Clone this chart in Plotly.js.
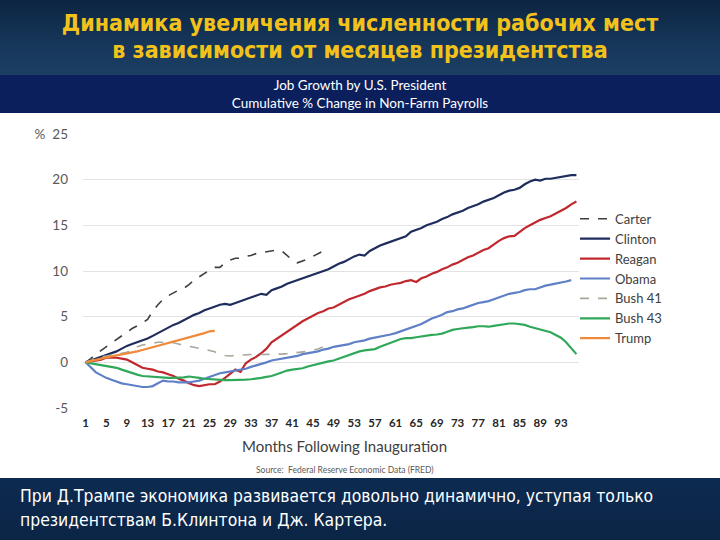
<!DOCTYPE html>
<html>
<head>
<meta charset="utf-8">
<script src="https://cdn.plot.ly/plotly-3.0.1.min.js"></script>
<style>
  html, body { margin:0; padding:0; width:720px; height:540px; overflow:hidden; background:#ffffff; }
  #topband { position:absolute; left:0; top:0; width:720px; height:75px;
    background: linear-gradient(180deg, #0c2441 0%, #16375a 60%, #1b3f63 100%); }
  #title { position:absolute; left:0; top:10px; width:720px; text-align:center; color:#f2c21b;
    font-family:"DejaVu Sans Condensed","DejaVu Sans",sans-serif; font-weight:bold; font-size:23px; line-height:27px; }
  #navband { position:absolute; left:0; top:75px; width:720px; height:38px; background:#0b1f5c; }
  #subtitle { position:absolute; left:0; top:75px; width:720px; text-align:center; color:#ffffff;
    font-family:Lato,"Noto Sans",sans-serif; font-size:13.5px; line-height:17.5px; padding-top:2px; }
  #bottomband { position:absolute; left:0; top:478px; width:720px; height:62px;
    background: linear-gradient(180deg, #0d2a50 0%, #0b2546 100%); }
  #bottomtext { position:absolute; left:20px; top:484px; width:700px; color:#ffffff;
    font-family:"DejaVu Sans Condensed","DejaVu Sans",sans-serif; font-size:17.4px; line-height:24px; }
  #chart { position:absolute; left:0; top:0; width:720px; height:540px; }
</style>
</head>
<body>
<div id="topband"></div>
<div id="title">Динамика увеличения численности рабочих мест<br>в зависимости от месяцев президентства</div>
<div id="navband"></div>
<div id="subtitle">Job Growth by U.S. President<br>Cumulative % Change in Non-Farm Payrolls</div>
<div id="bottomband"></div>
<div id="bottomtext">При Д.Трампе экономика развивается довольно динамично, уступая только<br>президентствам Б.Клинтона и Дж. Картера.</div>
<div id="chart"></div>
<script>
// ---- data (cumulative % change in non-farm payrolls by month since inauguration) ----
const seriesNames = ["Carter","Clinton","Reagan","Obama","Bush 41","Bush 43","Trump"];

const carter = [0,0.4,0.9,1.3,1.7,2.1,2.5,2.9,3.3,3.7,4.0,4.3,4.7,5.6,6.3,6.9,7.3,7.6,7.9,8.1,
  8.5,9.0,9.4,9.7,10.1,10.4,10.4,10.9,11.2,11.4,11.4,11.6,11.7,11.9,12.0,12.1,12.2,12.3,12.2,11.7,
  11.2,10.9,11.1,11.3,11.6,11.9,12.2,12.4];

const clinton = [0,0.2,0.4,0.6,0.8,1.0,1.2,1.5,1.8,2.0,2.2,2.4,2.6,2.9,3.2,3.5,3.8,4.1,4.3,4.6,
  4.9,5.2,5.4,5.7,5.9,6.1,6.3,6.4,6.3,6.5,6.7,6.9,7.1,7.3,7.5,7.4,7.9,8.1,8.3,8.6,
  8.8,9.0,9.2,9.4,9.6,9.8,10.0,10.2,10.5,10.8,11.0,11.3,11.6,11.8,11.7,12.2,12.5,12.8,13.0,13.2,
  13.4,13.6,13.8,14.3,14.5,14.7,15.0,15.2,15.4,15.7,15.9,16.2,16.4,16.6,16.9,17.1,17.3,17.6,17.8,18.0,
  18.3,18.6,18.8,18.9,19.1,19.5,19.8,20.0,19.9,20.1,20.1,20.2,20.3,20.4,20.5,20.5];

const reagan = [0,0.1,0.2,0.3,0.5,0.5,0.5,0.4,0.3,0.0,-0.3,-0.6,-0.7,-0.8,-1.0,-1.1,-1.3,-1.5,-1.8,-2.0,
  -2.3,-2.5,-2.6,-2.5,-2.4,-2.4,-2.1,-1.7,-1.2,-0.8,-1.05,-0.1,0.3,0.6,1.0,1.5,2.2,2.6,3.0,3.4,
  3.8,4.1,4.5,4.8,5.1,5.4,5.6,5.9,6.0,6.3,6.6,6.9,7.1,7.3,7.5,7.8,8.0,8.2,8.3,8.5,
  8.6,8.7,8.9,9.0,8.8,9.2,9.4,9.7,9.9,10.2,10.4,10.7,10.9,11.2,11.5,11.7,12.0,12.3,12.5,12.9,
  13.3,13.6,13.8,13.85,14.3,14.7,15.0,15.3,15.6,15.8,16.0,16.3,16.6,16.9,17.3,17.6];

const obama = [0,-0.6,-1.1,-1.4,-1.7,-1.9,-2.1,-2.3,-2.4,-2.5,-2.6,-2.7,-2.7,-2.6,-2.3,-2.0,-2.1,-2.1,-2.2,-2.2,
  -2.2,-2.1,-2.0,-1.8,-1.6,-1.4,-1.2,-1.1,-1.0,-0.9,-0.85,-0.7,-0.5,-0.35,-0.2,0.0,0.2,0.3,0.4,0.5,
  0.6,0.7,0.9,1.0,1.1,1.2,1.4,1.5,1.7,1.8,1.9,2.0,2.2,2.3,2.4,2.6,2.7,2.8,2.9,3.05,
  3.2,3.4,3.6,3.8,4.0,4.2,4.5,4.8,5.0,5.2,5.5,5.6,5.8,5.9,6.1,6.3,6.5,6.6,6.7,6.9,
  7.1,7.3,7.5,7.6,7.7,7.9,8.0,8.0,8.2,8.4,8.5,8.6,8.75,8.85,9.0];

const bush41 = [0,0.2,0.4,0.6,0.7,0.8,0.9,1.0,1.1,1.4,1.7,1.9,2.0,2.1,2.2,2.2,2.2,2.15,2.0,1.85,
  1.75,1.65,1.55,1.45,1.3,1.15,0.9,0.75,0.7,0.75,0.8,0.85,0.85,0.85,0.85,0.85,0.85,0.85,0.9,0.95,
  1.0,1.1,1.15,1.2,1.35,1.45,1.7,2.15];

const bush43 = [0,-0.1,-0.2,-0.3,-0.35,-0.45,-0.6,-0.8,-1.0,-1.2,-1.35,-1.5,-1.55,-1.6,-1.65,-1.65,-1.7,-1.7,-1.7,-1.65,
  -1.55,-1.6,-1.7,-1.8,-1.85,-1.9,-1.95,-1.95,-1.95,-1.95,-1.95,-1.9,-1.85,-1.8,-1.7,-1.6,-1.5,-1.3,-1.1,-0.9,
  -0.8,-0.75,-0.65,-0.45,-0.3,-0.15,-0.05,0.1,0.2,0.4,0.6,0.8,1.0,1.2,1.3,1.35,1.45,1.7,1.9,2.1,
  2.3,2.55,2.65,2.65,2.75,2.85,2.95,3.0,3.05,3.15,3.35,3.55,3.65,3.75,3.8,3.85,3.95,3.95,3.9,4.0,
  4.1,4.15,4.25,4.25,4.2,4.1,3.9,3.75,3.6,3.45,3.3,3.0,2.7,2.2,1.6,0.9];

const trump = [0,0.15,0.3,0.4,0.55,0.65,0.75,0.85,0.95,1.1,1.2,1.35,1.5,1.65,1.8,1.95,2.1,2.25,2.4,2.55,
  2.7,2.85,3.0,3.2,3.4,3.45];

const xTickVals = [1,5,9,13,17,21,25,29,33,37,41,45,49,53,57,61,65,69,73,77,81,85,89,93];
const yTickVals = [-5,0,5,10,15,20,25];
const yTickText = ["-5","0","5","10","15","20","%  25"];

// ---- styles ----
const styles = {
  "Carter":  {color:"#3f3f3f", width:1.6, dash:"dash"},
  "Clinton": {color:"#1f2d5c", width:2.2, dash:"solid"},
  "Reagan":  {color:"#c0282e", width:2.2, dash:"solid"},
  "Obama":   {color:"#5f7fc6", width:2.2, dash:"solid"},
  "Bush 41": {color:"#a9a69c", width:1.6, dash:"dash"},
  "Bush 43": {color:"#2fa85a", width:2.2, dash:"solid"},
  "Trump":   {color:"#ee8a3a", width:2.2, dash:"solid"}
};
const seriesData = [carter, clinton, reagan, obama, bush41, bush43, trump];

const traces = seriesNames.map((name, k) => {
  const ys = seriesData[k];
  return {
    type: "scatter", mode: "lines", name: name, legendgroup: name,
    x: ys.map((_, i) => i + 1), y: ys,
    line: Object.assign({shape: "linear"}, styles[name]),
    hoverinfo: "skip"
  };
});

const layout = {
  width: 720, height: 540,
  paper_bgcolor: "rgba(0,0,0,0)", plot_bgcolor: "#ffffff",
  margin: {l: 83, r: 141, t: 134, b: 132, pad: 0},
  showlegend: true,
  legend: {
    x: 0.992, xanchor: "left", y: 0.745, yanchor: "top",
    bgcolor: "rgba(0,0,0,0)", tracegroupgap: 0,
    font: {family: "Lato, 'Noto Sans', sans-serif", size: 13, color: "#404040"}
  },
  xaxis: {
    range: [0.5, 96.5], tickmode: "array", tickvals: xTickVals,
    showgrid: false, zeroline: false, showline: false, ticks: "",
    ticklabelstandoff: 6,
    tickfont: {family: "Lato, 'Noto Sans', sans-serif", size: 11.5, color: "#262626", weight: "bold"}
  },
  yaxis: {
    range: [-5, 25], tickmode: "array", tickvals: yTickVals, ticktext: yTickText,
    showgrid: true, gridcolor: "#e3e3e3", gridwidth: 1, zeroline: false, showline: false, ticks: "",
    ticklabelstandoff: 14,
    tickfont: {family: "Lato, 'Noto Sans', sans-serif", size: 13.5, color: "#595959"}
  },
  annotations: [
    {text: "Months Following Inauguration", xref: "paper", yref: "paper",
     x: 0.528, y: -0.14, xanchor: "center", yanchor: "middle", showarrow: false,
     font: {family: "Lato, 'Noto Sans', sans-serif", size: 15, color: "#404040"}},
    {text: "Source:  Federal Reserve Economic Data (FRED)", xref: "paper", yref: "paper",
     x: 0.528, y: -0.228, xanchor: "center", yanchor: "middle", showarrow: false,
     font: {family: "Lato, 'Noto Sans', sans-serif", size: 8.5, color: "#595959"}}
  ]
};

Plotly.newPlot("chart", traces, layout, {displayModeBar: false, staticPlot: true});
</script>
</body>
</html>
